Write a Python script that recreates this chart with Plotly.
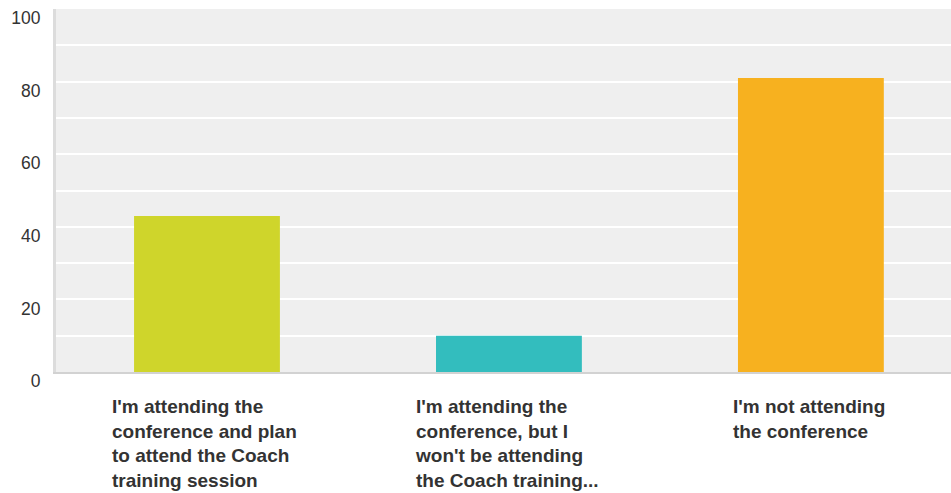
import plotly.graph_objects as go

# Survey responses
categories = ["attend_coach", "attend_no_coach", "not_attending"]
labels = [
    "I'm attending the<br>conference and plan<br>to attend the Coach<br>training session",
    "I'm attending the<br>conference, but I<br>won't be attending<br>the Coach training...",
    "I'm not attending<br>the conference",
]
counts = [43, 10, 81]
colors = ["#cfd52b", "#33bdbe", "#f7b11f"]
y_ticks = [0, 20, 40, 60, 80, 100]

fig = go.Figure(
    go.Bar(
        x=categories,
        y=counts,
        marker=dict(color=colors, line=dict(width=0)),
        width=0.483,
        hoverinfo="skip",
    )
)

# Category labels: left-aligned text blocks centred under each bar
for cat, text in zip(categories, labels):
    fig.add_annotation(
        x=cat, xref="x", xanchor="center", xshift=-2,
        y=0, yref="paper", yanchor="top", yshift=-22,
        text=f"<b>{text}</b>", align="left", showarrow=False,
        font=dict(family="Liberation Sans, Arial, sans-serif", size=19, color="#333333"),
    )

fig.update_layout(
    width=951, height=493,
    margin=dict(l=56, r=0, t=9, b=121),
    paper_bgcolor="white",
    plot_bgcolor="#efefef",
    showlegend=False,
    font=dict(family="Liberation Sans, Arial, sans-serif", size=18, color="#333333"),
    xaxis=dict(
        range=[-0.5, 2.464],
        showticklabels=False,
        showgrid=False,
        zeroline=False,
        showline=True, linecolor="#d2d2d2", linewidth=2,
        ticks="",
    ),
    yaxis=dict(
        range=[0, 100],
        tickvals=y_ticks,
        showgrid=True, gridcolor="white", gridwidth=2,
        minor=dict(dtick=10, showgrid=True, gridcolor="white", gridwidth=2),
        zeroline=False,
        showline=True, linecolor="#dcdcdc", linewidth=3,
        ticks="",
        ticklabelshift=9,
        ticklabelstandoff=9,
        tickfont=dict(size=17.5, color="#333333"),
    ),
)

fig.write_html("out.html")
